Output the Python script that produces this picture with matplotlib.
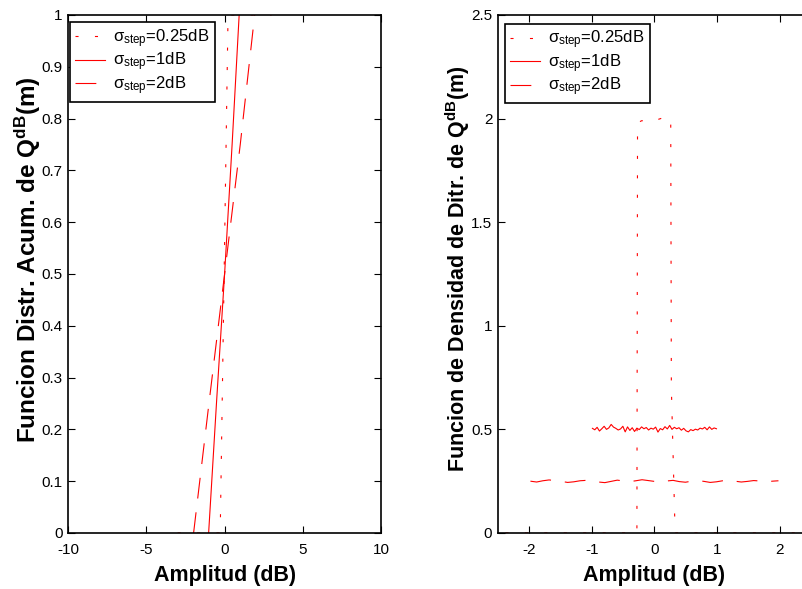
import numpy as np
import matplotlib
matplotlib.use('Agg')
import matplotlib.pyplot as plt

plt.rcParams['font.family'] = ['Liberation Sans', 'DejaVu Sans']
plt.rcParams['mathtext.fontset'] = 'custom'
plt.rcParams['mathtext.rm'] = 'Liberation Sans'
plt.rcParams['mathtext.it'] = 'Liberation Sans:italic'
plt.rcParams['mathtext.bf'] = 'Liberation Sans:bold'
plt.rcParams['lines.scale_dashes'] = False
plt.rcParams['axes.unicode_minus'] = False

# legend labels
labels = ['σ$_{\\rm step}$=0.25dB', 'σ$_{\\rm step}$=1dB', 'σ$_{\\rm step}$=2dB']

# cumulative distribution (left)
cdf025_x = [-3.0, -0.28, 0.22, 3.0]
cdf025_y = [0.0, 0.0, 1.0, 1.0]
cdf1_x = [-1.02, -0.52, 0.0, 0.48, 0.93]
cdf1_y = [0.0, 0.25, 0.5, 0.75, 1.0]
cdf2_x = [-1.98, -1.0, 0.0, 1.0, 1.92]
cdf2_y = [0.0, 0.25, 0.5, 0.75, 1.0]

# density (right)
pdf025_x = [-3.0, -0.28, -0.27, -0.2, -0.1, 0.0, 0.1, 0.2, 0.26, 0.27, 0.33, 3.0]
pdf025_y = [0.0, 0.0, 1.98, 1.99, 1.98, 1.99, 2.0, 2.01, 2.0, 0.7, 0.0, 0.0]
pdf1_y = [0.505, 0.498, 0.510, 0.492, 0.503, 0.515, 0.500, 0.507, 0.524, 0.511,
          0.505, 0.497, 0.502, 0.515, 0.488, 0.512, 0.495, 0.508, 0.490, 0.506,
          0.499, 0.512, 0.503, 0.509, 0.497, 0.506, 0.501, 0.511, 0.487, 0.504,
          0.498, 0.513, 0.502, 0.519, 0.500, 0.510, 0.503, 0.508, 0.496, 0.505,
          0.493, 0.488, 0.499, 0.494, 0.501, 0.497, 0.506, 0.502, 0.510, 0.498,
          0.512, 0.500, 0.507, 0.503]
pdf1_x = np.linspace(-0.99, 0.99, len(pdf1_y))
pdf2_y = [0.250, 0.246, 0.252, 0.256, 0.253, 0.249, 0.244, 0.247, 0.252, 0.254,
          0.250, 0.246, 0.243, 0.249, 0.255, 0.251, 0.248, 0.252, 0.257, 0.253,
          0.249, 0.246, 0.251, 0.254, 0.248, 0.245, 0.250, 0.253, 0.249, 0.244,
          0.247, 0.252, 0.255, 0.250, 0.246, 0.249, 0.253, 0.251, 0.247, 0.250,
          0.252]
pdf2_x = np.linspace(-1.98, 1.98, len(pdf2_y))

dotted = (0, (2.2, 11.8))
dashed = (0, (15, 10))
red = '#ff0000'
lw = 0.8

fig = plt.figure(figsize=(8.03, 5.89), dpi=100)
ax1 = fig.add_axes([0.0847, 0.0951, 0.390, 0.8795])
ax2 = fig.add_axes([0.620, 0.0951, 0.390, 0.8795])

ax1.plot(cdf025_x, cdf025_y, color=red, lw=lw, ls=dotted, label=labels[0])
ax1.plot(cdf1_x, cdf1_y, color=red, lw=lw, ls='-', label=labels[1])
ax1.plot(cdf2_x, cdf2_y, color=red, lw=lw, ls=dashed, label=labels[2])
ax1.set_xlim(-10, 10)
ax1.set_ylim(0, 1)
ax1.set_xticks([-10, -5, 0, 5, 10])
ax1.set_yticks(np.arange(0, 1.01, 0.1))
ax1.set_yticklabels(['0', '0.1', '0.2', '0.3', '0.4', '0.5', '0.6', '0.7', '0.8', '0.9', '1'])
ax1.set_xlabel('Amplitud (dB)', fontsize=15.5, fontweight='bold')
ax1.set_ylabel('Funcion Distr. Acum. de Q$^{\\bf dB}$(m)', fontsize=17.5, fontweight='bold')
ax1.yaxis.label.set_va('center')
ax1.yaxis.set_label_coords(-0.128, 0.527)

ax2.plot(pdf025_x, pdf025_y, color=red, lw=lw, ls=dotted, label=labels[0])
ax2.plot(pdf1_x, pdf1_y, color=red, lw=lw, ls='-', label=labels[1])
ax2.plot(pdf2_x, pdf2_y, color=red, lw=lw, ls=dashed, label=labels[2])
ax2.set_xlim(-2.5, 2.5)
ax2.set_ylim(0, 2.5)
ax2.set_xticks([-2, -1, 0, 1, 2])
ax2.set_yticks([0, 0.5, 1, 1.5, 2, 2.5])
ax2.set_yticklabels(['0', '0.5', '1', '1.5', '2', '2.5'])
ax2.set_xlabel('Amplitud (dB)', fontsize=15.5, fontweight='bold')
ax2.set_ylabel('Funcion de Densidad de Ditr. de Q$^{\\bf dB}$(m)', fontsize=15.5, fontweight='bold')
ax2.yaxis.label.set_va('center')
ax2.yaxis.set_label_coords(-0.128, 0.51)

for ax, anchor in [(ax1, (0.006, 0.986)), (ax2, (0.022, 0.983))]:
    ax.tick_params(direction='in', top=True, right=True, length=5, width=0.8,
                   labelsize=11, pad=4)
    ax.tick_params(axis='x', pad=7)
    ax.xaxis.labelpad = 6
    for s in ax.spines.values():
        s.set_linewidth(1.2)
    leg = ax.legend(loc='upper left', bbox_to_anchor=anchor, borderaxespad=0,
                    fontsize=12, fancybox=False, framealpha=1, edgecolor='black',
                    handlelength=1.8, handletextpad=0.5, labelspacing=0.05,
                    borderpad=0.3)
    leg.get_frame().set_linewidth(1.2)

fig.savefig('out.png', dpi=100)
